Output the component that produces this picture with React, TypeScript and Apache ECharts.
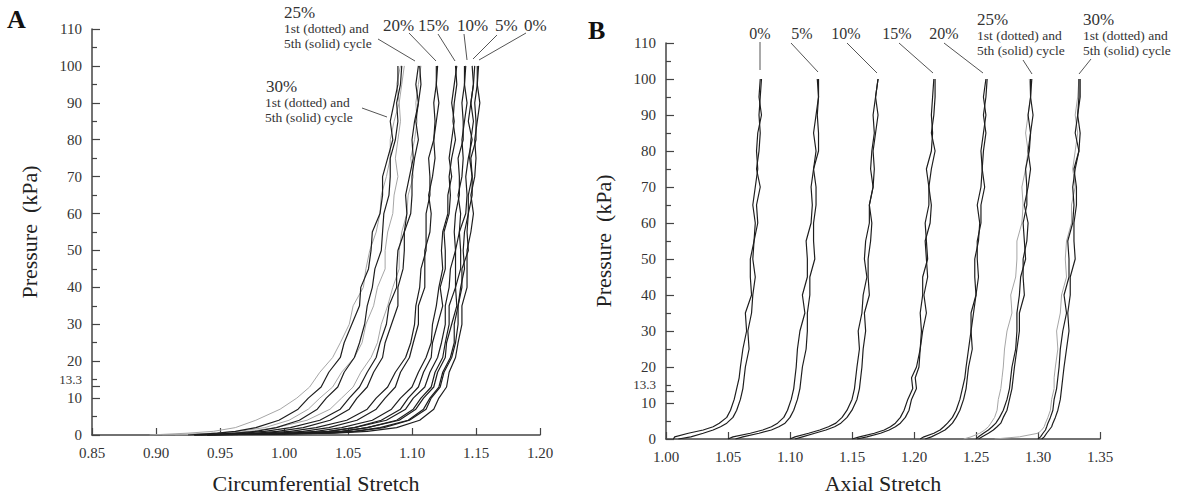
import React, { useEffect, useRef } from "react";
import * as echarts from "echarts";

// ---------- Panel A: circumferential stretch vs pressure ----------
const PA = [0, 0.5, 1, 2, 4, 7, 10, 13, 17, 21, 25, 30, 35, 40, 45, 50, 55, 60, 65, 70, 75, 80, 85, 90, 95, 100];

const A30_G1 = [0.895, 0.925, 0.945, 0.962, 0.978, 0.997, 1.010, 1.020, 1.028, 1.038, 1.044, 1.051, 1.054, 1.062, 1.064, 1.067, 1.072, 1.075, 1.076, 1.080, 1.083, 1.083, 1.086, 1.090, 1.088, 1.091];
const A30_G2 = [0.905, 0.945, 0.965, 0.985, 1.004, 1.019, 1.028, 1.038, 1.045, 1.055, 1.061, 1.064, 1.070, 1.073, 1.079, 1.079, 1.081, 1.085, 1.086, 1.089, 1.087, 1.089, 1.091, 1.090, 1.092, 1.094];
const A30_B1 = [0.925, 0.948, 0.962, 0.978, 0.996, 1.011, 1.019, 1.029, 1.035, 1.044, 1.047, 1.053, 1.059, 1.060, 1.066, 1.068, 1.069, 1.075, 1.077, 1.077, 1.081, 1.085, 1.083, 1.086, 1.089, 1.089];
const A30_B2 = [0.935, 0.962, 0.978, 0.994, 1.012, 1.026, 1.033, 1.042, 1.047, 1.055, 1.059, 1.063, 1.065, 1.069, 1.071, 1.076, 1.077, 1.078, 1.082, 1.083, 1.083, 1.087, 1.089, 1.088, 1.091, 1.092];
const A25_G = [0.915, 0.955, 0.973, 0.994, 1.018, 1.036, 1.045, 1.054, 1.060, 1.068, 1.073, 1.076, 1.081, 1.085, 1.090, 1.090, 1.092, 1.096, 1.097, 1.101, 1.099, 1.102, 1.104, 1.103, 1.105, 1.107];
const A25_B1 = [0.930, 0.968, 0.985, 1.005, 1.028, 1.044, 1.051, 1.059, 1.065, 1.072, 1.075, 1.080, 1.082, 1.088, 1.088, 1.089, 1.094, 1.096, 1.095, 1.098, 1.101, 1.100, 1.102, 1.105, 1.103, 1.105];
const A25_B2 = [0.940, 0.978, 0.995, 1.015, 1.036, 1.051, 1.057, 1.065, 1.070, 1.077, 1.079, 1.084, 1.089, 1.089, 1.093, 1.094, 1.094, 1.099, 1.100, 1.100, 1.102, 1.105, 1.103, 1.105, 1.107, 1.106];
const A20_B1 = [0.930, 0.985, 1.005, 1.025, 1.049, 1.065, 1.072, 1.081, 1.087, 1.095, 1.099, 1.102, 1.103, 1.106, 1.107, 1.111, 1.111, 1.111, 1.114, 1.114, 1.113, 1.117, 1.118, 1.117, 1.119, 1.119];
const A20_B2 = [0.940, 0.995, 1.015, 1.035, 1.057, 1.072, 1.079, 1.087, 1.091, 1.098, 1.101, 1.105, 1.105, 1.110, 1.110, 1.110, 1.114, 1.115, 1.113, 1.116, 1.118, 1.117, 1.119, 1.121, 1.119, 1.120];
const A15_B1 = [0.930, 1.005, 1.025, 1.045, 1.069, 1.084, 1.091, 1.100, 1.105, 1.111, 1.115, 1.116, 1.119, 1.121, 1.124, 1.123, 1.124, 1.128, 1.128, 1.131, 1.129, 1.131, 1.133, 1.131, 1.133, 1.135];
const A15_B2 = [0.940, 1.015, 1.035, 1.055, 1.076, 1.091, 1.097, 1.105, 1.109, 1.115, 1.116, 1.120, 1.124, 1.122, 1.126, 1.126, 1.125, 1.129, 1.130, 1.129, 1.131, 1.134, 1.132, 1.133, 1.135, 1.134];
const A10_B1 = [0.930, 1.015, 1.035, 1.055, 1.080, 1.095, 1.101, 1.110, 1.114, 1.120, 1.123, 1.126, 1.126, 1.129, 1.130, 1.134, 1.133, 1.134, 1.137, 1.137, 1.136, 1.140, 1.140, 1.139, 1.141, 1.141];
const A10_B2 = [0.940, 1.025, 1.045, 1.065, 1.088, 1.101, 1.107, 1.115, 1.118, 1.124, 1.126, 1.129, 1.129, 1.134, 1.134, 1.134, 1.137, 1.138, 1.136, 1.139, 1.140, 1.139, 1.141, 1.143, 1.141, 1.142];
const A5_B1 = [0.930, 1.025, 1.045, 1.065, 1.090, 1.103, 1.109, 1.117, 1.120, 1.126, 1.127, 1.131, 1.135, 1.134, 1.138, 1.138, 1.137, 1.142, 1.143, 1.142, 1.144, 1.147, 1.144, 1.146, 1.148, 1.147];
const A5_B2 = [0.940, 1.035, 1.055, 1.075, 1.097, 1.109, 1.114, 1.121, 1.124, 1.130, 1.133, 1.133, 1.136, 1.138, 1.141, 1.140, 1.141, 1.144, 1.144, 1.147, 1.145, 1.146, 1.148, 1.146, 1.148, 1.149];
const A0_B1 = [0.930, 1.030, 1.055, 1.078, 1.098, 1.111, 1.115, 1.122, 1.125, 1.131, 1.134, 1.136, 1.136, 1.139, 1.139, 1.144, 1.143, 1.144, 1.147, 1.147, 1.146, 1.150, 1.150, 1.149, 1.151, 1.151];
const A0_B2 = [0.940, 1.040, 1.065, 1.088, 1.106, 1.117, 1.121, 1.127, 1.129, 1.134, 1.136, 1.139, 1.139, 1.143, 1.143, 1.143, 1.146, 1.148, 1.146, 1.149, 1.150, 1.149, 1.151, 1.153, 1.151, 1.152];

// ---------- Panel B: axial stretch vs pressure ----------
const PB = [0, 0.6, 1.6, 2.5, 3.4, 4.4, 6, 8, 11, 14, 17, 20, 25, 30, 35, 40, 45, 50, 55, 60, 65, 70, 75, 80, 85, 90, 95, 100];

const B0_1 = [1.006, 1.007, 1.018, 1.030, 1.038, 1.043, 1.049, 1.052, 1.055, 1.057, 1.059, 1.060, 1.062, 1.065, 1.064, 1.069, 1.068, 1.068, 1.071, 1.072, 1.070, 1.072, 1.074, 1.073, 1.074, 1.077, 1.075, 1.076];
const B0_2 = [1.010, 1.020, 1.030, 1.038, 1.044, 1.049, 1.054, 1.057, 1.060, 1.062, 1.063, 1.064, 1.067, 1.066, 1.069, 1.070, 1.072, 1.070, 1.071, 1.074, 1.073, 1.076, 1.073, 1.075, 1.076, 1.075, 1.076, 1.077];
const B5_1 = [1.050, 1.054, 1.068, 1.078, 1.085, 1.090, 1.095, 1.098, 1.101, 1.103, 1.104, 1.105, 1.106, 1.108, 1.112, 1.110, 1.114, 1.114, 1.113, 1.117, 1.118, 1.117, 1.119, 1.121, 1.119, 1.121, 1.123, 1.122];
const B5_2 = [1.056, 1.062, 1.075, 1.085, 1.091, 1.096, 1.100, 1.103, 1.106, 1.108, 1.109, 1.110, 1.113, 1.114, 1.114, 1.116, 1.116, 1.120, 1.119, 1.119, 1.121, 1.121, 1.119, 1.123, 1.123, 1.122, 1.123, 1.123];
const B10_1 = [1.100, 1.104, 1.115, 1.124, 1.131, 1.137, 1.142, 1.146, 1.150, 1.152, 1.153, 1.154, 1.156, 1.155, 1.158, 1.159, 1.162, 1.160, 1.161, 1.164, 1.164, 1.167, 1.165, 1.166, 1.168, 1.167, 1.169, 1.171];
const B10_2 = [1.104, 1.110, 1.120, 1.129, 1.136, 1.141, 1.146, 1.150, 1.154, 1.156, 1.157, 1.158, 1.159, 1.161, 1.160, 1.164, 1.163, 1.163, 1.165, 1.166, 1.164, 1.167, 1.168, 1.167, 1.169, 1.171, 1.169, 1.171];
const B15_1 = [1.150, 1.156, 1.168, 1.176, 1.181, 1.185, 1.189, 1.192, 1.195, 1.199, 1.198, 1.202, 1.205, 1.206, 1.205, 1.207, 1.207, 1.211, 1.210, 1.209, 1.212, 1.212, 1.210, 1.214, 1.215, 1.214, 1.215, 1.216];
const B15_2 = [1.154, 1.162, 1.173, 1.180, 1.185, 1.189, 1.193, 1.196, 1.198, 1.202, 1.201, 1.204, 1.205, 1.207, 1.210, 1.208, 1.211, 1.210, 1.209, 1.213, 1.214, 1.212, 1.214, 1.217, 1.214, 1.216, 1.217, 1.217];
const B20_1 = [1.205, 1.208, 1.216, 1.221, 1.224, 1.227, 1.231, 1.234, 1.237, 1.239, 1.241, 1.242, 1.244, 1.246, 1.246, 1.250, 1.249, 1.249, 1.252, 1.253, 1.251, 1.254, 1.255, 1.254, 1.256, 1.258, 1.256, 1.258];
const B20_2 = [1.209, 1.214, 1.220, 1.225, 1.228, 1.231, 1.234, 1.237, 1.240, 1.242, 1.243, 1.244, 1.247, 1.246, 1.248, 1.250, 1.252, 1.251, 1.251, 1.254, 1.254, 1.257, 1.255, 1.256, 1.258, 1.256, 1.258, 1.259];
const B25_G = [1.240, 1.246, 1.253, 1.257, 1.260, 1.262, 1.265, 1.267, 1.268, 1.270, 1.271, 1.272, 1.273, 1.275, 1.279, 1.278, 1.282, 1.283, 1.283, 1.287, 1.288, 1.287, 1.290, 1.292, 1.290, 1.292, 1.294, 1.293];
const B25_1 = [1.250, 1.252, 1.256, 1.260, 1.263, 1.266, 1.269, 1.272, 1.275, 1.277, 1.278, 1.279, 1.282, 1.283, 1.283, 1.285, 1.286, 1.290, 1.289, 1.288, 1.291, 1.291, 1.290, 1.293, 1.294, 1.292, 1.294, 1.294];
const B25_2 = [1.252, 1.255, 1.260, 1.264, 1.267, 1.270, 1.272, 1.275, 1.277, 1.279, 1.280, 1.281, 1.283, 1.285, 1.285, 1.289, 1.288, 1.288, 1.291, 1.292, 1.289, 1.292, 1.294, 1.292, 1.294, 1.296, 1.294, 1.295];
const B30_G = [1.265, 1.285, 1.300, 1.303, 1.305, 1.306, 1.308, 1.310, 1.311, 1.313, 1.313, 1.314, 1.316, 1.315, 1.318, 1.319, 1.323, 1.322, 1.323, 1.327, 1.327, 1.330, 1.328, 1.330, 1.332, 1.330, 1.332, 1.333];
const B30_1 = [1.300, 1.302, 1.304, 1.306, 1.307, 1.308, 1.310, 1.312, 1.313, 1.315, 1.316, 1.317, 1.318, 1.320, 1.323, 1.321, 1.325, 1.325, 1.324, 1.328, 1.329, 1.328, 1.330, 1.333, 1.330, 1.332, 1.333, 1.333];
const B30_2 = [1.303, 1.305, 1.307, 1.309, 1.311, 1.312, 1.314, 1.316, 1.318, 1.319, 1.320, 1.321, 1.323, 1.325, 1.324, 1.326, 1.326, 1.330, 1.329, 1.329, 1.331, 1.331, 1.329, 1.333, 1.334, 1.332, 1.334, 1.334];

const GREY_A = [A30_G1, A30_G2, A25_G];
const BLACK_A = [A30_B1, A30_B2, A25_B1, A25_B2, A20_B1, A20_B2, A15_B1, A15_B2, A10_B1, A10_B2, A5_B1, A5_B2, A0_B1, A0_B2];
const GREY_B = [B25_G, B30_G];
const BLACK_B = [B0_1, B0_2, B5_1, B5_2, B10_1, B10_2, B15_1, B15_2, B20_1, B20_2, B25_1, B25_2, B30_1, B30_2];

const Y_TICKS_EXTRA = [13.3];
const X_NAMES = ["Circumferential Stretch", "Axial Stretch"];
const Y_NAME = "Pressure  (kPa)";

const FONT = '"Liberation Serif", "Times New Roman", serif';
const AXIS_COLOR = "#444";
const TEXT_COLOR = "#333";

function lineSeries(xs: number[], ps: number[], panel: number, grey: boolean) {
  return {
    type: "line",
    xAxisIndex: panel,
    yAxisIndex: panel * 2,
    data: xs.map((x, i) => [x, ps[i]]),
    symbol: "none",
    showSymbol: false,
    silent: true,
    z: grey ? 2 : 3,
    lineStyle: { color: grey ? "#a6a6a6" : "#1e1e1e", width: grey ? 1 : 1.2 },
  };
}

function mainY(grid: number) {
  return {
    type: "value",
    gridIndex: grid,
    min: 0,
    max: 110,
    interval: 10,
    position: "left",
    name: Y_NAME,
    nameLocation: "middle",
    nameGap: 52,
    nameTextStyle: { fontFamily: FONT, fontSize: 22, color: "#222" },
    axisLine: { show: true, lineStyle: { color: AXIS_COLOR, width: 1.5 } },
    axisTick: { show: true, inside: true, length: 8, lineStyle: { color: AXIS_COLOR, width: 1.2 } },
    minorTick: { show: true, splitNumber: 2, length: 5, lineStyle: { color: AXIS_COLOR, width: 1.2 } },
    splitLine: { show: false },
    minorSplitLine: { show: false },
    axisLabel: { color: TEXT_COLOR, fontFamily: FONT, fontSize: 15, margin: 10 },
  };
}

function extraY(grid: number) {
  return {
    type: "value",
    gridIndex: grid,
    min: 0,
    max: 110,
    position: "left",
    axisLine: { show: false },
    axisTick: { show: true, inside: true, length: 8, customValues: Y_TICKS_EXTRA, lineStyle: { color: AXIS_COLOR, width: 1.2 } },
    splitLine: { show: false },
    axisLabel: {
      customValues: Y_TICKS_EXTRA,
      formatter: (v: number) => v.toFixed(1),
      color: TEXT_COLOR,
      fontFamily: FONT,
      fontSize: 13,
      lineHeight: 13,
      verticalAlign: "bottom",
      margin: 10,
    },
  };
}

function xAx(grid: number, min: number, max: number, gap: number) {
  return {
    type: "value",
    gridIndex: grid,
    min,
    max,
    interval: 0.05,
    name: X_NAMES[grid],
    nameLocation: "middle",
    nameGap: gap,
    nameTextStyle: { fontFamily: FONT, fontSize: 22, color: "#222" },
    axisLine: { show: true, onZero: false, lineStyle: { color: AXIS_COLOR, width: 1.5 } },
    axisTick: { show: true, inside: true, length: 7, lineStyle: { color: AXIS_COLOR, width: 1.2 } },
    splitLine: { show: false },
    axisLabel: {
      color: TEXT_COLOR,
      fontFamily: FONT,
      fontSize: 15,
      margin: 10,
      formatter: (v: number) => v.toFixed(2),
    },
  };
}

function txt(x: number, y: number, text: string, size: number, align = "left", weight = "normal", fill = TEXT_COLOR) {
  return {
    type: "text",
    x,
    y,
    silent: true,
    style: { text, fontSize: size, fontFamily: FONT, fontWeight: weight, fill, align, verticalAlign: "middle" },
  };
}
function seg(x1: number, y1: number, x2: number, y2: number) {
  return { type: "line", silent: true, shape: { x1, y1, x2, y2 }, style: { stroke: "#555", lineWidth: 1 } };
}

export default function App() {
  const ref = useRef<HTMLDivElement>(null);
  useEffect(() => {
    if (!ref.current) return;
    const chart = echarts.init(ref.current, undefined, { renderer: "svg" });
    const series: any[] = [];
    GREY_A.forEach((c) => series.push(lineSeries(c, PA, 0, true)));
    BLACK_A.forEach((c) => series.push(lineSeries(c, PA, 0, false)));
    GREY_B.forEach((c) => series.push(lineSeries(c, PB, 1, true)));
    BLACK_B.forEach((c) => series.push(lineSeries(c, PB, 1, false)));

    const graphic: any[] = [
      txt(7, 19, "A", 26, "left", "bold", "#111"),
      txt(588, 30, "B", 26, "left", "bold", "#111"),
      // panel A labels
      txt(284, 12, "25%", 17),
      txt(284, 28, "1st (dotted) and", 13.5),
      txt(284, 43, "5th (solid) cycle", 13.5),
      txt(383, 25, "20%", 17),
      txt(418, 25, "15%", 17),
      txt(457, 25, "10%", 17),
      txt(495, 25, "5%", 17),
      txt(524, 25, "0%", 17),
      txt(266, 86, "30%", 17),
      txt(265, 102, "1st (dotted) and", 13.5),
      txt(265, 117, "5th (solid) cycle", 13.5),
      seg(378, 39, 415, 61),
      seg(409, 33, 436, 61),
      seg(438, 34, 455, 61),
      seg(464, 34, 467, 60),
      seg(497, 35, 473, 59),
      seg(526, 33, 479, 60),
      seg(362, 108, 387, 117),
      // panel B labels
      txt(760, 33, "0%", 16, "center"),
      txt(802, 33, "5%", 16, "center"),
      txt(846, 33, "10%", 16, "center"),
      txt(897, 33, "15%", 16, "center"),
      txt(944, 33, "20%", 16, "center"),
      txt(977, 19, "25%", 17),
      txt(977, 35, "1st (dotted) and", 13.5),
      txt(977, 50, "5th (solid) cycle", 13.5),
      txt(1083, 19, "30%", 17),
      txt(1083, 35, "1st (dotted) and", 13.5),
      txt(1083, 50, "5th (solid) cycle", 13.5),
      seg(760, 42, 760, 70),
      seg(791, 43, 818, 72),
      seg(847, 43, 877, 73),
      seg(899, 43, 933, 73),
      seg(944, 43, 983, 73),
      seg(1023, 60, 1032, 74),
      seg(1091, 59, 1079, 74),
    ];

    chart.setOption({
      animation: false,
      backgroundColor: "#ffffff",
      grid: [
        { left: 92, top: 29, width: 448, height: 406, containLabel: false },
        { left: 666, top: 43, width: 434, height: 396, containLabel: false },
      ],
      xAxis: [xAx(0, 0.85, 1.2, 37), xAx(1, 1.0, 1.35, 33)],
      yAxis: [mainY(0), extraY(0), mainY(1), extraY(1)],
      series,
      graphic,
    });
    return () => chart.dispose();
  }, []);
  return (
    <div
      ref={ref}
      style={{ position: "fixed", left: 0, top: 0, width: 1178, height: 502, background: "#fff" }}
    />
  );
}
